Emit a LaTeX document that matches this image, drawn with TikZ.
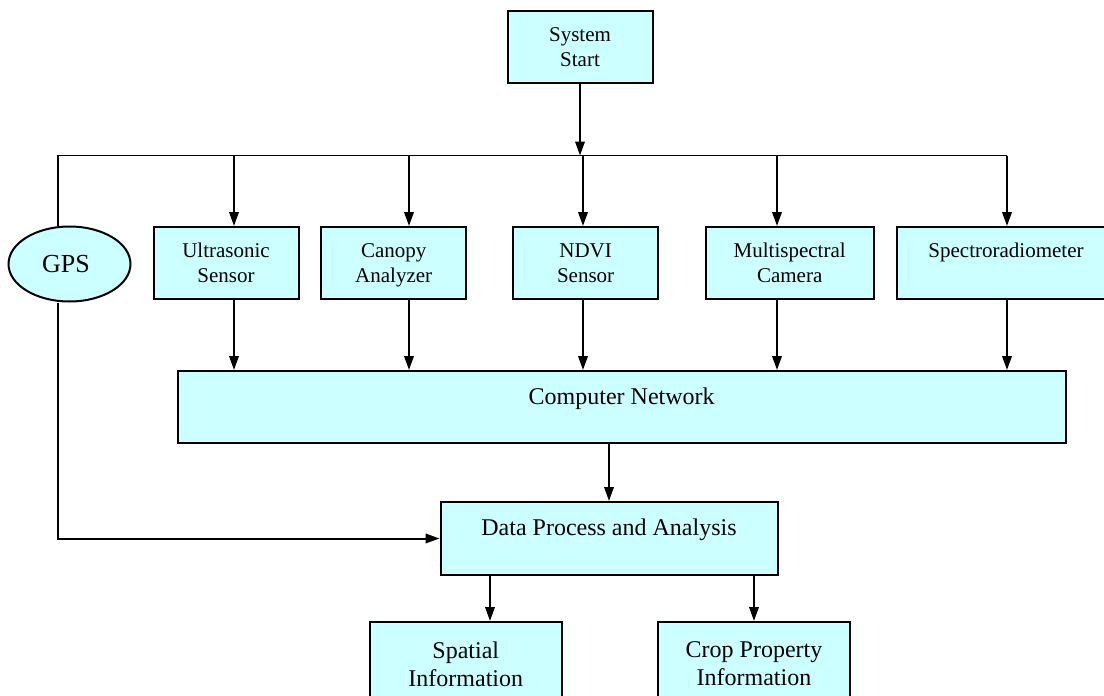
\documentclass[tikz,border=0pt]{standalone}
\usepackage{fontspec}
\setmainfont{Liberation Serif}
\usetikzlibrary{arrows.meta,shapes.geometric}
\definecolor{boxfill}{RGB}{204,255,255}
\tikzset{
  box/.style={draw=black, fill=boxfill, line width=2pt, rectangle,
    inner sep=0pt, align=center, minimum height=72pt},
  small/.style={font=\fontsize{21}{25}\selectfont},
  large/.style={font=\fontsize{24}{28}\selectfont},
  arr/.style={line width=2pt, -{Triangle[length=14pt,width=9.5pt]}},
  wire/.style={line width=1.8pt},
}
\begin{document}
\begin{tikzpicture}[x=1pt, y=-1pt]
\path[use as bounding box, clip] (0,0) rectangle (1104,696);

% top
\node[box, small, minimum width=145pt] (start) at (580,47) {System\\Start};

% sensors
\node[draw=black, fill=boxfill, line width=2pt, ellipse, inner sep=0pt,
      minimum width=122pt, minimum height=75pt,
      font=\fontsize{26}{30}\selectfont] (gps) at (69.5,264) {GPS\hspace*{7pt}};
\node[box, small, minimum width=145pt] (us) at (226,263) {Ultrasonic\\Sensor};
\node[box, small, minimum width=145pt] (ca) at (393.7,263) {Canopy\\\smash{Analyzer}};
\node[box, small, minimum width=145pt] (ndvi) at (585.6,263) {NDVI\\Sensor};
\node[box, small, minimum width=168pt] (ms) at (789.7,263) {Multispectral\\Camera};
\node[box, small, minimum width=218pt] (sp) at (1006,263) {Spectroradiometer\\\mbox{}};

% processing
\node[box, large, minimum width=888pt] (net) at (621.7,407) {Computer Network\\[-6pt]\mbox{}};
\node[box, large, minimum width=337pt, minimum height=73pt] (data) at (609,538.5) {Data Process and Analysis\\[-6pt]\mbox{}};

% outputs (run past the lower edge)
\node[box, large, minimum width=192pt, minimum height=84pt] (spat) at (465.8,664) {Spatial\\Information};
\node[box, large, minimum width=192pt, minimum height=84pt] (crop) at (754,664) {Crop Property\\Information};

% distribution bus
\coordinate (g)  at (58,155.5);
\coordinate (sj) at (580,155.5);
\coordinate (b1) at (234,155.5);
\coordinate (b2) at (409,155.5);
\coordinate (b3) at (583,155.5);
\coordinate (b4) at (777,155.5);
\coordinate (b5) at (1007,155.5);
\coordinate (d1) at (490,0);

\draw[wire] (gps.north -| g) -- (g) -- (b5);
\draw[arr] (start.south) -- (sj);

\draw[arr] (b1) -- (b1 |- us.north);
\draw[arr] (b2) -- (b2 |- ca.north);
\draw[arr] (b3) -- (b3 |- ndvi.north);
\draw[arr] (b4) -- (b4 |- ms.north);
\draw[arr] (b5) -- (b5 |- sp.north);

\draw[arr] (b1 |- us.south) -- (b1 |- net.north);
\draw[arr] (b2 |- ca.south) -- (b2 |- net.north);
\draw[arr] (b3 |- ndvi.south) -- (b3 |- net.north);
\draw[arr] (b4 |- ms.south) -- (b4 |- net.north);
\draw[arr] (b5 |- sp.south) -- (b5 |- net.north);

\draw[arr] (net.south -| data.north) -- (data.north);
\draw[arr] (gps.south -| g) |- (data.west);

\draw[arr] (d1 |- data.south) -- (d1 |- spat.north);
\draw[arr] (data.south -| crop.north) -- (crop.north);
\end{tikzpicture}
\end{document}
